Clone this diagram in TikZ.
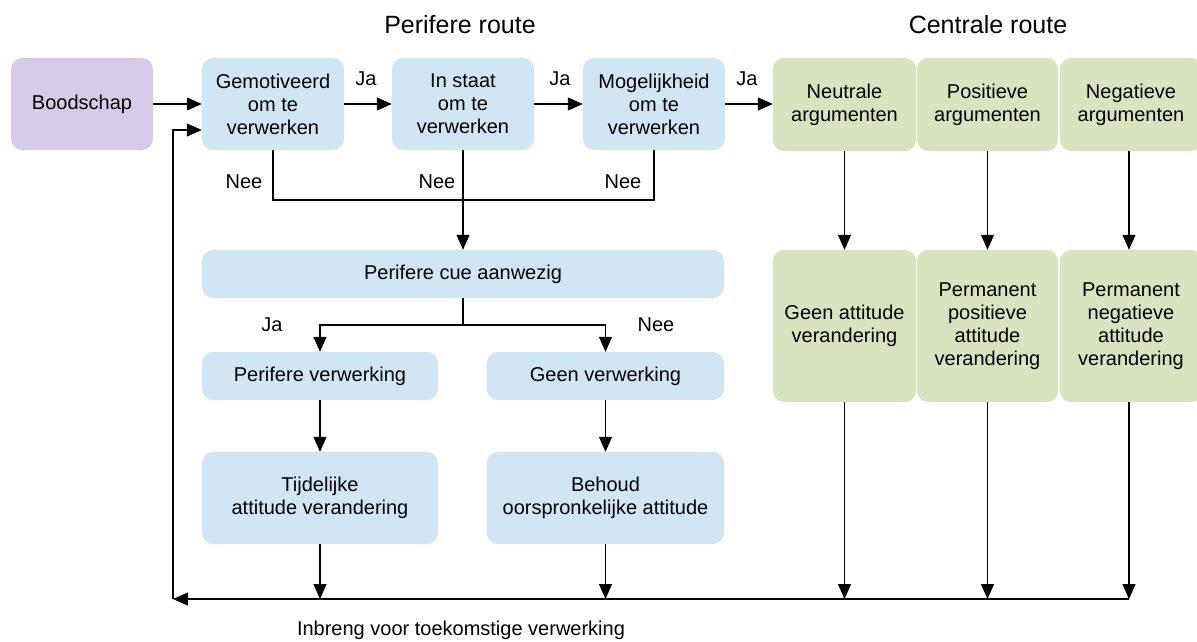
\documentclass[tikz,border=0pt]{standalone}
\usepackage{fontspec}
\setmainfont{Liberation Sans}
\usetikzlibrary{arrows.meta}
\definecolor{bluefill}{HTML}{D0E6F4}
\definecolor{greenfill}{HTML}{D8E4C0}
\definecolor{purplefill}{HTML}{D6CCEA}
\begin{document}
\begin{tikzpicture}[x=1pt,y=-1pt,
  txt/.style={font=\fontsize{20}{23}\selectfont, align=center, inner sep=0pt},
  box/.style={txt, rounded corners=11pt, draw=none},
  bluebox/.style={box, fill=bluefill},
  greenbox/.style={box, fill=greenfill},
  purplebox/.style={box, fill=purplefill},
  conn/.style={line width=1.1pt, black},
  arr/.style={conn, -{Triangle[length=15pt,width=13pt]}},
  title/.style={font=\fontsize{25}{29}\selectfont, inner sep=0pt},
  lbl/.style={txt}
]
\useasboundingbox (0,0) rectangle (1197,641);
\clip (0,0) rectangle (1197,641);

% titles
\node[title] (t1) at (460,25) {Perifere route};
\node[title] (t2) at (988,25) {Centrale route};

% top row
\node[purplebox, minimum width=142pt, minimum height=92pt] (boodschap) at (82,104) {Boodschap};
\node[bluebox, minimum width=142pt, minimum height=92pt] (gem) at (273,104) {Gemotiveerd\\om te\\verwerken};
\node[bluebox, minimum width=142pt, minimum height=92pt] (staat) at (463,104) {In staat\\om te\\verwerken};
\node[bluebox, minimum width=142pt, minimum height=92pt] (mog) at (654,104) {Mogelijkheid\\om te\\verwerken};

\node[greenbox, minimum width=143pt, minimum height=93pt] (neu) at (844.5,104.5) {Neutrale\\argumenten};
\node[greenbox, minimum width=141pt, minimum height=93pt] (pos) at (987.5,104.5) {Positieve\\argumenten};
\node[greenbox, minimum width=142pt, minimum height=93pt] (neg) at (1131,104.5) {Negatieve\\argumenten};

\node[greenbox, minimum width=143pt, minimum height=152pt] (neu2) at (844.5,326) {Geen attitude\\verandering};
\node[greenbox, minimum width=141pt, minimum height=152pt] (pos2) at (987.5,326) {Permanent\\positieve\\attitude\\verandering};
\node[greenbox, minimum width=142pt, minimum height=152pt] (neg2) at (1131,326) {Permanent\\negatieve\\attitude\\verandering};

% peripheral part
\node[bluebox, minimum width=522pt, minimum height=48pt] (cue) at (463,274) {Perifere cue aanwezig};
\node[bluebox, minimum width=236pt, minimum height=48pt] (perver) at (320,376) {Perifere verwerking};
\node[bluebox, minimum width=237pt, minimum height=48pt] (geenver) at (605.5,376) {Geen verwerking};
\node[bluebox, minimum width=236pt, minimum height=92pt] (tijd) at (320,498) {Tijdelijke\\attitude verandering};
\node[bluebox, minimum width=237pt, minimum height=92pt] (behoud) at (605.5,498) {Behoud\\oorspronkelijke attitude};

% top connectors
\draw[arr] (boodschap) -- (gem);
\draw[arr] (gem) -- (staat);
\draw[arr] (staat) -- (mog);
\draw[arr] (mog.east) -- (mog.east -| neu.west);
\node[lbl] (ja1) at (366,79) {Ja};
\node[lbl] (ja2) at (560,79) {Ja};
\node[lbl] (ja3) at (747,79) {Ja};

% Nee connectors
\coordinate (jn) at (463,200);
\draw[conn] (gem.south) |- (jn) -| (mog.south);
\draw[arr] (staat.south) -- (cue.north);
\node[lbl] (nee1) at (244,182) {Nee};
\node[lbl] (nee2) at (437,182) {Nee};
\node[lbl] (nee3) at (623,182) {Nee};

% cue split
\coordinate (split) at (463,325);
\draw[conn] (cue.south) -- (split);
\draw[arr] (split) -| (perver.north);
\draw[arr] (split) -| (geenver.north);
\node[lbl] (ja4) at (272,325) {Ja};
\node[lbl] (nee4) at (656,325) {Nee};

\draw[arr] (perver) -- (tijd);
\draw[arr] (geenver) -- (behoud);

% central
\draw[arr] (neu) -- (neu2);
\draw[arr] (pos) -- (pos2);
\draw[arr] (neg.south -| 1129,0) -- (neg2.north -| 1129,0);

% bottom feedback line
\coordinate (bl) at (173,599);
\coordinate (br) at (1129,599);
\draw[arr] (tijd.south) -- (tijd.south |- bl);
\draw[arr] (behoud.south) -- (behoud.south |- bl);
\draw[arr] (neu2.south) -- (neu2.south |- bl);
\draw[arr] (pos2.south) -- (pos2.south |- bl);
\draw[arr] (neg2.south -| br) -- (br);
\draw[arr] (br) -- (bl);
\draw[arr] (bl) |- ([yshift=-26pt]gem.west);
\node[lbl] (inbreng) at (461,630) {Inbreng voor toekomstige verwerking};
\end{tikzpicture}
\end{document}
